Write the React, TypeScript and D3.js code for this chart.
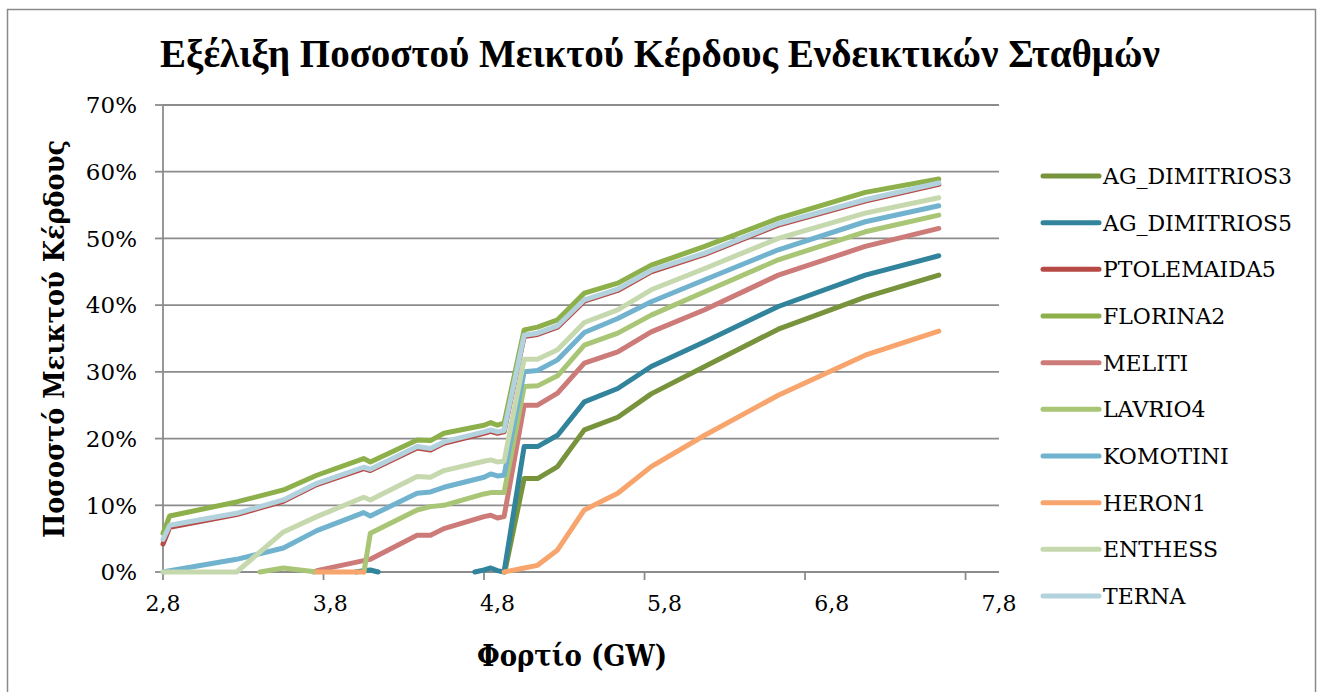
import React from 'react';
import * as d3 from 'd3';

// ---------- DATA ----------
const loadGW = [2.80, 2.84, 3.24, 3.52, 3.72, 4.00, 4.04, 4.32, 4.40, 4.48, 4.72, 4.76, 4.80, 4.84, 4.96, 5.04, 5.16, 5.32, 5.52, 5.72, 6.04, 6.48, 7.00, 7.44];

const agDimitrios3 = [-10, -9.5, -8, -7, -6, -5, -5, -4, -4, -3.5, -2.5, -2, -1.5, -0.5, 14.0, 14.0, 15.8, 21.3, 23.2, 26.7, 30.8, 36.4, 41.2, 44.5];
const agDimitrios5 = [-6, -5.5, -4, -2.5, -1.0, 0.2, 0.3, -1.5, -1.5, -1.0, 0.3, 0.6, 0.2, 0.0, 18.8, 18.8, 20.5, 25.5, 27.5, 30.8, 34.5, 39.8, 44.5, 47.4];
const ptolemaida5 = [4.2, 6.7, 8.6, 10.6, 13.1, 15.5, 15.2, 18.6, 18.3, 19.3, 20.8, 21.1, 20.8, 21.0, 35.3, 35.6, 36.7, 40.6, 42.2, 45.0, 47.6, 52.0, 55.6, 58.1];
const florina2 = [5.8, 8.4, 10.5, 12.3, 14.5, 17.0, 16.5, 19.8, 19.7, 20.8, 22.0, 22.4, 22.0, 22.3, 36.3, 36.7, 37.8, 41.8, 43.3, 46.0, 48.8, 53.0, 56.9, 58.9];
const meliti = [-6, -5.5, -4, -2, 0.2, 1.7, 1.9, 5.5, 5.5, 6.5, 8.3, 8.5, 8.1, 8.3, 25.0, 25.0, 26.8, 31.3, 33.0, 36.0, 39.3, 44.5, 48.8, 51.5];
const lavrio4 = [-3, -2.5, -0.6, 0.6, 0.0, -0.3, 5.8, 9.3, 9.8, 10.0, 11.7, 11.9, 11.9, 11.9, 27.8, 27.9, 29.4, 34.0, 35.8, 38.5, 42.0, 46.8, 51.0, 53.5];
const komotini = [0, 0.2, 1.9, 3.6, 6.2, 8.9, 8.4, 11.8, 12.0, 12.7, 14.2, 14.7, 14.4, 14.5, 30.0, 30.2, 31.8, 35.9, 38.0, 40.5, 43.8, 48.3, 52.5, 54.9];
const heron1 = [-8, -7, -5, -2, 0, 0, -0.5, -2, -2, -2, -1.5, -1, -0.5, 0.0, 0.6, 1.0, 3.3, 9.3, 11.8, 15.8, 20.5, 26.5, 32.5, 36.1];
const enthess = [0, 0, 0, 6.0, 8.3, 11.2, 10.8, 14.3, 14.2, 15.2, 16.6, 16.8, 16.5, 16.6, 31.9, 31.9, 33.3, 37.4, 39.3, 42.3, 45.5, 50.0, 53.8, 56.1];
const terna = [4.9, 7.0, 8.8, 10.8, 13.3, 15.7, 15.4, 18.8, 18.5, 19.5, 21.0, 21.3, 21.0, 21.2, 35.5, 35.8, 36.9, 40.8, 42.4, 45.2, 47.8, 52.2, 55.8, 58.3];

const seriesNames = ['AG_DIMITRIOS3', 'AG_DIMITRIOS5', 'PTOLEMAIDA5', 'FLORINA2', 'MELITI', 'LAVRIO4', 'KOMOTINI', 'HERON1', 'ENTHESS', 'TERNA'];
const seriesValues = [agDimitrios3, agDimitrios5, ptolemaida5, florina2, meliti, lavrio4, komotini, heron1, enthess, terna];
const seriesColors = ['#77933C', '#31849B', '#B84A46', '#8DB04B', '#CC7B79', '#A9C676', '#71B3CE', '#F8A46D', '#C6D9AE', '#B2D2DE'];

const yTicks = [0, 10, 20, 30, 40, 50, 60, 70];
const xLabels = [2.8, 3.8, 4.8, 5.8, 6.8, 7.8];
const xTickMarks = [2.8, 3.76, 4.72, 5.68, 6.64, 7.6];

const titleText = 'Εξέλιξη Ποσοστού Μεικτού Κέρδους Ενδεικτικών Σταθμών';
const yTitle = 'Ποσοστό Μεικτού Κέρδους';
const xTitle = 'Φορτίο (GW)';

// ---------- helpers ----------
function positiveRuns(xs: number[], vs: number[]): [number, number][][] {
  const runs: [number, number][][] = [];
  let cur: [number, number][] = [];
  for (let i = 0; i < xs.length; i++) {
    const v = vs[i], x = xs[i];
    if (i > 0) {
      const pv = vs[i - 1], px = xs[i - 1];
      if ((pv < 0) !== (v < 0)) {
        const t = (0 - pv) / (v - pv);
        const xc = px + t * (x - px);
        if (pv < 0) {
          cur = [[xc, 0]];
        } else {
          cur.push([xc, 0]);
          runs.push(cur);
          cur = [];
        }
      }
    }
    if (v >= 0) cur.push([x, v]);
  }
  if (cur.length) runs.push(cur);
  return runs;
}

const FONT = '"DejaVu Serif", serif';
const TITLE_FONT = '"Liberation Serif", "DejaVu Serif", serif';

export default function App() {
  const W = 1321, H = 692;
  const x = d3.scaleLinear().domain([2.8, 7.8]).range([163, 999]);
  const y = d3.scaleLinear().domain([0, 70]).range([572, 105]);
  const line = d3.line<[number, number]>().x(d => x(d[0])).y(d => y(d[1]));
  const fmt = (v: number) => v.toFixed(1).replace('.', ',');

  const legendX = 1043, legendY0 = 176, legendStep = 46.67;

  return (
    <svg width={W} height={H} style={{ position: 'absolute', left: 0, top: 0, background: '#fff' }}>
      <rect x={7.5} y={9.5} width={1308} height={700} fill="#fff" stroke="#8a8a8a" strokeWidth={1.5} />

      <text x={660} y={67} textAnchor="middle" fontFamily={TITLE_FONT} fontWeight="bold" fontSize={39}
        fill="#000">{titleText}</text>

      {/* gridlines */}
      {yTicks.filter(t => t > 0).map(t => (
        <line key={'g' + t} x1={163} x2={999} y1={y(t)} y2={y(t)} stroke="#8c8c8c" strokeWidth={1.8} />
      ))}
      {/* y axis */}
      <line x1={163} x2={163} y1={105} y2={572} stroke="#8c8c8c" strokeWidth={1.8} />
      {yTicks.map(t => (
        <g key={'yt' + t}>
          <line x1={155} x2={163} y1={y(t)} y2={y(t)} stroke="#8c8c8c" strokeWidth={1.8} />
          <text x={137} y={y(t)} dy="0.36em" textAnchor="end" fontFamily={FONT} fontSize={23} fill="#000">{t}%</text>
        </g>
      ))}
      {/* x axis */}
      <line x1={163} x2={999} y1={572} y2={572} stroke="#8c8c8c" strokeWidth={1.8} />
      {xTickMarks.map(t => (
        <line key={'xt' + t} x1={x(t)} x2={x(t)} y1={572} y2={580} stroke="#8c8c8c" strokeWidth={1.8} />
      ))}
      {xLabels.map(t => (
        <text key={'xl' + t} x={x(t)} y={611} textAnchor="middle" fontFamily={FONT} fontSize={22} fill="#000">{fmt(t)}</text>
      ))}

      {/* series */}
      {seriesValues.map((vals, si) => (
        <g key={seriesNames[si]}>
          {positiveRuns(loadGW, vals).map((run, ri) => (
            <path key={ri} d={line(run) || ''} fill="none" stroke={seriesColors[si]} strokeWidth={5}
              strokeLinejoin="round" strokeLinecap="round" />
          ))}
        </g>
      ))}

      {/* axis titles */}
      <text transform="translate(64,339) rotate(-90)" textAnchor="middle" fontFamily={FONT} fontWeight="bold"
        fontSize={28} textLength={398} lengthAdjust="spacingAndGlyphs" fill="#000">{yTitle}</text>
      <text x={572} y={666} textAnchor="middle" fontFamily={FONT} fontWeight="bold" fontSize={29}
        textLength={190} lengthAdjust="spacingAndGlyphs" fill="#000">{xTitle}</text>

      {/* legend */}
      {seriesNames.map((n, i) => (
        <g key={'lg' + n}>
          <line x1={legendX} x2={legendX + 56} y1={legendY0 + i * legendStep} y2={legendY0 + i * legendStep}
            stroke={seriesColors[i]} strokeWidth={5} strokeLinecap="round" />
          <text x={1103} y={legendY0 + i * legendStep} dy="0.36em" fontFamily={FONT} fontSize={22} fill="#000">{n}</text>
        </g>
      ))}
    </svg>
  );
}
